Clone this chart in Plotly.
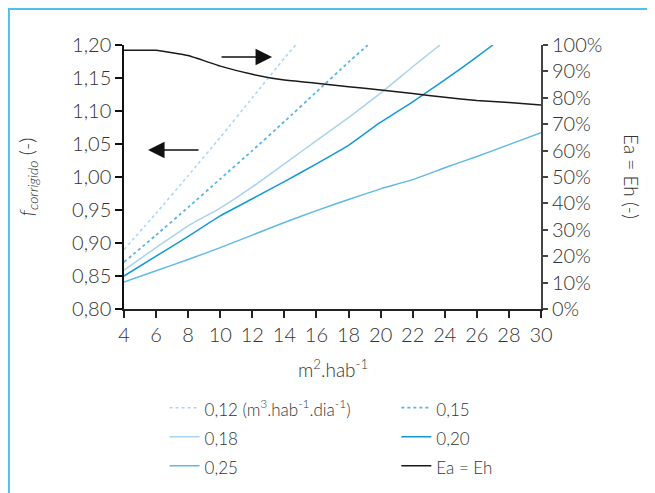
import plotly.graph_objects as go

# ---- data ----
x_012 = [4, 6, 8, 10, 12, 14, 14.7]
f_012 = [0.890, 0.945, 1.002, 1.060, 1.120, 1.180, 1.200]

x_015 = [4, 6, 8, 10, 12, 14, 16, 18, 19.2]
f_015 = [0.871, 0.912, 0.954, 0.997, 1.040, 1.084, 1.129, 1.174, 1.200]

x_018 = [4, 6, 8, 10, 12, 14, 16, 18, 20, 22, 23.7]
f_018 = [0.859, 0.893, 0.926, 0.953, 0.985, 1.020, 1.055, 1.090, 1.127, 1.167, 1.200]

x_020 = [4, 6, 8, 10, 12, 14, 16, 18, 20, 22, 24, 26, 27]
f_020 = [0.850, 0.880, 0.910, 0.941, 0.967, 0.993, 1.020, 1.048, 1.083, 1.114, 1.147, 1.182, 1.200]

x_025 = [4, 6, 8, 10, 12, 14, 16, 18, 20, 22, 24, 26, 28, 30]
f_025 = [0.841, 0.858, 0.875, 0.893, 0.912, 0.931, 0.949, 0.966, 0.982, 0.996, 1.014, 1.031, 1.049, 1.067]

x_eff = [4, 6, 8, 10, 12, 14, 16, 18, 20, 22, 24, 26, 28, 30]
eff = [0.98, 0.98, 0.96, 0.92, 0.889, 0.867, 0.855, 0.842, 0.830, 0.816, 0.802, 0.790, 0.782, 0.773]

x_ticks = list(range(4, 31, 2))
y_ticks = [0.80, 0.85, 0.90, 0.95, 1.00, 1.05, 1.10, 1.15, 1.20]
y2_ticks = [i / 10 for i in range(0, 11)]

labels = ["0,12 (m<sup>3</sup>.hab<sup>-1</sup>.dia<sup>-1</sup>)", "0,15", "0,18", "0,20", "0,25", "Ea = Eh"]
names = ['<span style="font-size:17px">' + s + '</span>' for s in labels]

FONT = "Lato"
TXT = "#333333"
TICKFONT = dict(family=FONT, size=20, color=TXT, weight=300)

fig = go.Figure()
fig.add_trace(go.Scatter(x=x_012, y=f_012, mode="lines", name=names[0],
                         line=dict(color="#a9d5f0", width=1.5, dash="dot", shape="spline", smoothing=0.4)))
fig.add_trace(go.Scatter(x=x_015, y=f_015, mode="lines", name=names[1],
                         line=dict(color="#5ab4e5", width=1.8, dash="dot", shape="spline", smoothing=0.4)))
fig.add_trace(go.Scatter(x=x_018, y=f_018, mode="lines", name=names[2],
                         line=dict(color="#a8d3ee", width=1.5, shape="spline", smoothing=0.4)))
fig.add_trace(go.Scatter(x=x_020, y=f_020, mode="lines", name=names[3],
                         line=dict(color="#129ad6", width=1.5, shape="spline", smoothing=0.4)))
fig.add_trace(go.Scatter(x=x_025, y=f_025, mode="lines", name=names[4],
                         line=dict(color="#62b9e3", width=1.5, shape="spline", smoothing=0.4)))
fig.add_trace(go.Scatter(x=x_eff, y=eff, mode="lines", name=names[5], yaxis="y2",
                         line=dict(color="#1a1a1a", width=1.5, shape="spline", smoothing=0.3)))

# the page has an 8px body margin: compensate so the plot lands where the reference has it
fig.update_layout(
    width=655, height=493,
    margin=dict(l=116, r=122, t=37, b=192, autoexpand=False),
    paper_bgcolor="white", plot_bgcolor="white",
    separators=", ",
    font=dict(family=FONT, size=17, color=TXT, weight=300),
    xaxis=dict(range=[4, 30], tickvals=x_ticks, showgrid=False, zeroline=False,
               showline=True, linecolor="#222222", linewidth=1.5,
               ticks="outside", ticklen=7, tickwidth=1.5, tickcolor="#222222",
               tickfont=TICKFONT),
    yaxis=dict(range=[0.80, 1.20], tickvals=y_ticks, tickformat=".2f", showgrid=False, zeroline=False,
               showline=True, linecolor="#111111", linewidth=1.5,
               ticks="outside", ticklen=7, tickwidth=1.5, tickcolor="#111111",
               tickfont=TICKFONT),
    yaxis2=dict(range=[0, 1], tickvals=y2_ticks, tickformat=".0%", overlaying="y", side="right",
                showgrid=False, zeroline=False, showline=True, linecolor="#444444", linewidth=2,
                ticks="outside", ticklen=5, tickwidth=1.5, tickcolor="#444444",
                tickfont=TICKFONT),
    legend=dict(orientation="h", x=1.222, xanchor="right", y=-0.30, yanchor="top",
                entrywidth=0.43, entrywidthmode="fraction", tracegroupgap=0,
                font=dict(family=FONT, size=20, color=TXT, weight=300), bgcolor="rgba(0,0,0,0)"),
    showlegend=True,
)

# axis titles
fig.add_annotation(text="m<sup>2</sup>.hab<sup>-1</sup>", xref="paper", yref="paper",
                   x=0.5, y=-0.226, showarrow=False, font=dict(size=19, color=TXT),
                   xanchor="center", yanchor="middle")
fig.add_annotation(text="<i>f</i><sub><i>corrigido</i></sub> (-)", xref="paper", yref="paper",
                   x=-0.232, y=0.5, showarrow=False, textangle=-90, font=dict(size=20, color=TXT),
                   xanchor="center", yanchor="middle")
fig.add_annotation(text="Ea = Eh (-)", xref="paper", yref="paper",
                   x=1.218, y=0.5, showarrow=False, textangle=90, font=dict(size=19, color=TXT),
                   xanchor="center", yanchor="middle")

# arrows
fig.add_annotation(x=13.23, y=1.1818, xref="x", yref="y", ax=-52, ay=0, text="",
                   showarrow=True, arrowhead=2, arrowsize=2.2, arrowwidth=1.5, arrowcolor="#111111")
fig.add_annotation(x=5.5, y=1.041, xref="x", yref="y", ax=52, ay=0, text="",
                   showarrow=True, arrowhead=2, arrowsize=2.2, arrowwidth=1.5, arrowcolor="#111111")

# frame
fig.add_shape(type="rect", xref="paper", yref="paper", x0=-0.276, y0=-0.75, x1=1.35, y1=1.136,
              line=dict(color="#4fc0e8", width=2), fillcolor="rgba(0,0,0,0)", layer="below")

fig.write_html("out.html")
